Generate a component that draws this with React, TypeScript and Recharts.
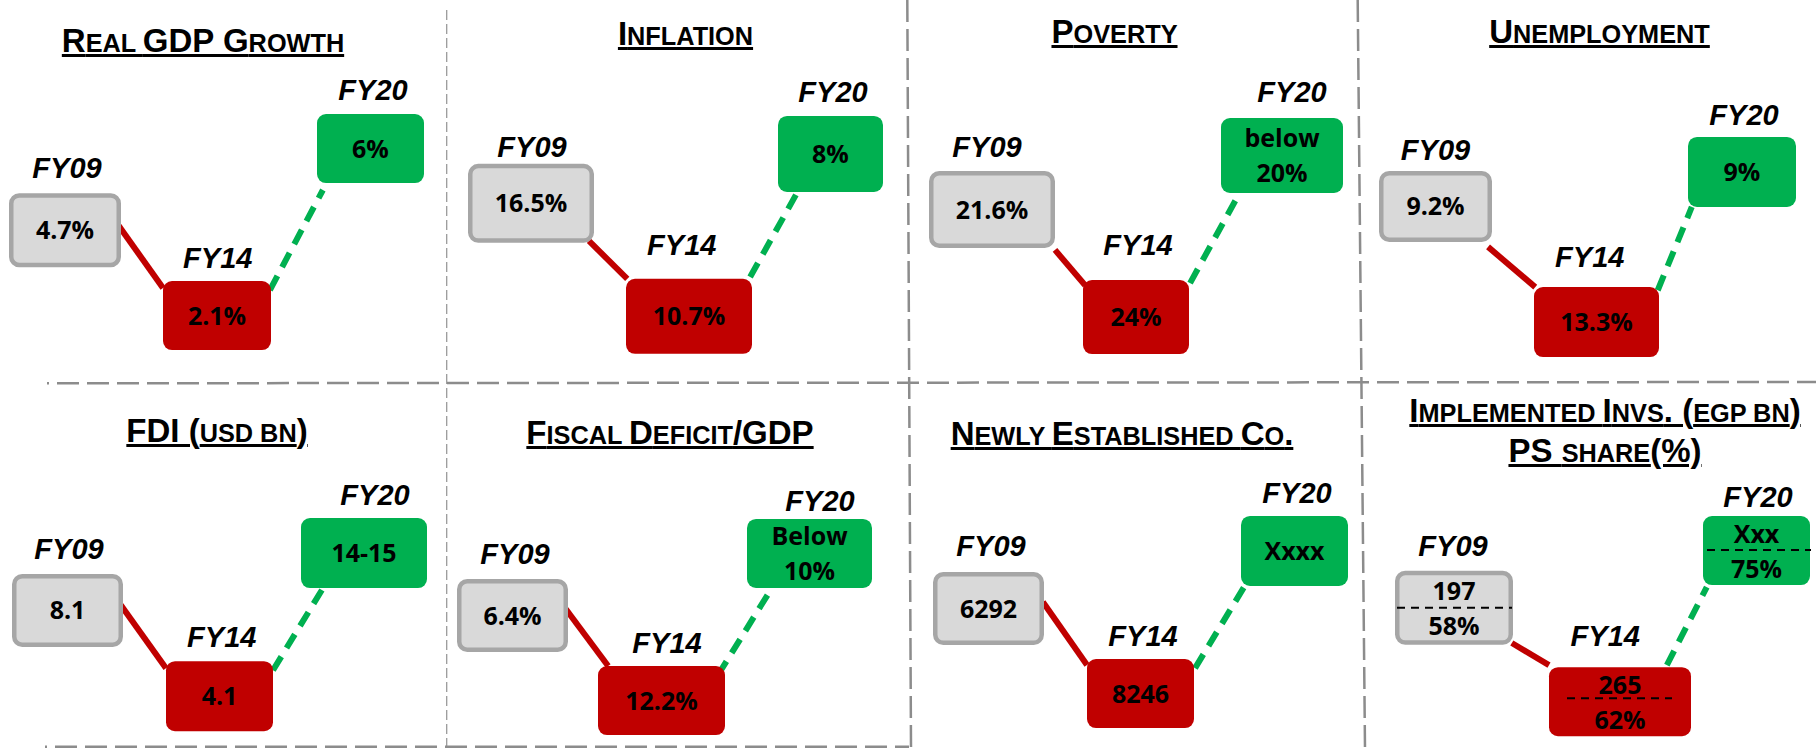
import React from 'react';
import { LineChart, Line, XAxis, YAxis } from 'recharts';

// ---------- DATA ----------
const years = ['FY09', 'FY14', 'FY20'];

const gdpGrowth = ['4.7%', '2.1%', '6%'];
const inflation = ['16.5%', '10.7%', '8%'];
const poverty = ['21.6%', '24%', 'below\n20%'];
const unemployment = ['9.2%', '13.3%', '9%'];
const fdiUsdBn = ['8.1', '4.1', '14-15'];
const fiscalDeficitGdp = ['6.4%', '12.2%', 'Below\n10%'];
const newCompanies = ['6292', '8246', 'Xxxx'];
const implementedInvEgpBn = ['197', '265', 'Xxx'];
const psSharePct = ['58%', '62%', '75%'];

// schematic trend position of each year's box (0 = bottom, 100 = top of the panel)
const gdpTrend = [39.9, 17.6, 61.2];
const inflationTrend = [46.9, 17.4, 59.8];
const povertyTrend = [45.3, 17.2, 59.4];
const unemploymentTrend = [46.1, 15.9, 55.1];
const fdiTrend = [37.7, 14.2, 53.4];
const deficitTrend = [36.3, 13.0, 53.3];
const newCoTrend = [38.2, 14.9, 54.0];
const investTrend = [38.4, 12.7, 54.1];

const titles = [
  ['Real GDP Growth'],
  ['Inflation'],
  ['Poverty'],
  ['Unemployment'],
  ['FDI (usd bn)'],
  ['Fiscal Deficit/GDP'],
  ['Newly Established Co.'],
  ['Implemented Invs. (egp bn)', 'PS share(%)'],
];

// ---------- LAYOUT ----------
const COLS = [[0, 447], [447, 908], [908, 1361], [1361, 1816]];
const ROWS = [[0, 383], [383, 748]];

type Pt = [number, number];
type Cfg = {
  col: number; row: number;
  titleX: number; titleBase: number[];
  lines: string[][]; trend: number[]; sep?: boolean;
  pad: [number, number];
  boxDx: number[]; boxW: number[]; boxH: number[];
  labelDx: number[]; labelGap: number[];
  aFrom: Pt; aTo: Pt; bFrom: Pt; bTo: Pt;
  sepGeom?: [number, number, number][];
};

const split = (arr: string[]) => arr.map((s) => s.split('\n'));

const panels: Cfg[] = [
  { col: 0, row: 0, titleX: 203, titleBase: [52], lines: split(gdpGrowth), trend: gdpTrend,
    pad: [65, 76.5], boxDx: [0, -0.75, 0], boxW: [112, 108, 107], boxH: [74, 69, 69],
    labelDx: [2, 0, 2.5], labelGap: [15, 13, 14],
    aFrom: [0.95, -0.14], aTo: [-1, -0.8], bFrom: [0.98, -0.74], bTo: [-0.89, 1.2] },
  { col: 1, row: 0, titleX: 685.5, titleBase: [45], lines: split(inflation), trend: inflationTrend,
    pad: [84, 77.5], boxDx: [0, 8.25, 0], boxW: [126, 126, 105], boxH: [79, 75, 76],
    labelDx: [1, 1, 2.5], labelGap: [7, 24, 14],
    aFrom: [0.92, 0.95], aTo: [-0.98, -1.0], bFrom: [0.97, -1.05], bTo: [-0.64, 1.03] },
  { col: 2, row: 0, titleX: 1114.5, titleBase: [43], lines: split(poverty), trend: povertyTrend,
    pad: [84, 79], boxDx: [0, -1, 0], boxW: [126, 106, 122], boxH: [77, 74, 75],
    labelDx: [-5, 1, 10], labelGap: [14, 25, 16],
    aFrom: [1.0, 1.05], aTo: [-0.96, -0.86], bFrom: [1.02, -0.92], bTo: [-0.74, 1.13] },
  { col: 3, row: 0, titleX: 1599.5, titleBase: [43], lines: split(unemployment), trend: unemploymentTrend,
    pad: [74.5, 74], boxDx: [0, 7.75, 0], boxW: [113, 125, 108], boxH: [71, 70, 70],
    labelDx: [0, 1, 2], labelGap: [11, 20, 12],
    aFrom: [0.93, 1.14], aTo: [-0.98, -1.0], bFrom: [0.98, -0.91], bTo: [-0.93, 1.0] },
  { col: 0, row: 1, titleX: 217, titleBase: [442], lines: split(fdiUsdBn), trend: fdiTrend,
    pad: [67.5, 83], boxDx: [0, 3.75, 0], boxW: [111, 107, 126], boxH: [73, 70, 70],
    labelDx: [1.5, 6, 11], labelGap: [15, 14, 13],
    aFrom: [0.96, -0.15], aTo: [-1, -0.8], bFrom: [1.0, -0.74], bTo: [-0.65, 1.0] },
  { col: 1, row: 1, titleX: 670, titleBase: [444], lines: split(fiscalDeficitGdp), trend: deficitTrend,
    pad: [65.5, 98.5], boxDx: [0, 0.5, 0], boxW: [111, 127, 125], boxH: [73, 69, 69],
    labelDx: [2.5, 6, 10.5], labelGap: [15, 13, 8],
    aFrom: [0.96, -0.18], aTo: [-0.84, -1.0], bFrom: [0.89, -0.74], bTo: [-0.66, 1.17] },
  { col: 2, row: 1, titleX: 1122, titleBase: [445], lines: split(newCompanies), trend: newCoTrend,
    pad: [80.5, 66.5], boxDx: [0, -1, 0], boxW: [111, 107, 107], boxH: [73, 69, 70],
    labelDx: [2.5, 1.5, 2.5], labelGap: [16, 13, 13],
    aFrom: [0.98, -0.18], aTo: [-1, -0.83], bFrom: [1.02, -0.74], bTo: [-0.93, 1.0] },
  { col: 3, row: 1, titleX: 1605, titleBase: [422, 462],
    lines: implementedInvEgpBn.map((v, i) => [v, psSharePct[i]]), trend: investTrend, sep: true,
    pad: [93, 59.5], boxDx: [0, 14.75, 0], boxW: [118, 142, 107], boxH: [74, 69, 69],
    labelDx: [-1, 0, 1.5], labelGap: [15, 21, 9],
    aFrom: [0.98, 0.95], aTo: [-1, -1.06], bFrom: [0.66, -1.06], bTo: [-0.93, 1.06],
    sepGeom: [[-57, 58, 0], [-53, 52, -3.5], [-49.5, 54.5, -0.5]] },
];

const RED = '#c00000';
const GREEN = '#00b050';
const GRAY_FILL = '#d9d9d9';
const GRAY_STROKE = '#a6a6a6';
const LABEL_FONT = "'Liberation Sans', Arial, sans-serif";
const VALUE_FONT = "'Open Sans', 'Noto Sans', sans-serif";
const TITLE_SIZE = 33;
const TITLE_SMALL = 25.3;
const CONNECTOR_WIDTH = 6;

// custom d3 curve: connector drawn between box edges, from box i to box i+1
function makeConnector(cfg: Cfg, from: number, a: Pt, b: Pt) {
  return (context: any) => {
    let pts: Pt[] = [];
    return {
      areaStart() {},
      areaEnd() {},
      lineStart() { pts = []; },
      point(x: number, y: number) { pts.push([x, y]); },
      lineEnd() {
        if (pts.length < 2) return;
        const i0 = from, i1 = from + 1;
        const sx = pts[0][0] + cfg.boxDx[i0] + (a[0] * cfg.boxW[i0]) / 2;
        const sy = pts[0][1] + (a[1] * cfg.boxH[i0]) / 2;
        const ex = pts[1][0] + cfg.boxDx[i1] + (b[0] * cfg.boxW[i1]) / 2;
        const ey = pts[1][1] + (b[1] * cfg.boxH[i1]) / 2;
        context.moveTo(sx, sy);
        context.lineTo(ex, ey);
      },
    };
  };
}

function makeBox(cfg: Cfg) {
  return (props: any) => {
    const { cx, cy, index } = props;
    if (cx == null || cy == null) return <g key={`b-${index}`} />;
    const w = cfg.boxW[index];
    const h = cfg.boxH[index];
    const bx = cx + cfg.boxDx[index];
    const x0 = bx - w / 2;
    const y0 = cy - h / 2;
    const lines = cfg.lines[index];
    const valueProps = {
      textAnchor: 'middle' as const,
      fontFamily: VALUE_FONT,
      fontWeight: 700,
      fontSize: 25,
      fill: '#000',
    };
    const sg = cfg.sepGeom ? cfg.sepGeom[index] : null;
    return (
      <g key={`b-${index}`}>
        {index === 0 ? (
          <rect x={x0 + 2.25} y={y0 + 2.25} width={w - 4.5} height={h - 4.5} rx={8} ry={8}
            fill={GRAY_FILL} stroke={GRAY_STROKE} strokeWidth={4.5} />
        ) : (
          <rect x={x0} y={y0} width={w} height={h} rx={9} ry={9}
            fill={index === 1 ? RED : GREEN} />
        )}
        <text x={cx + cfg.labelDx[index]} y={y0 - cfg.labelGap[index]} textAnchor="middle"
          fontFamily={LABEL_FONT} fontWeight={700} fontStyle="italic" fontSize={29} fill="#000">
          {years[index]}
        </text>
        {lines.length === 1 ? (
          <text x={bx} y={cy + 9} {...valueProps}>{lines[0]}</text>
        ) : (
          <>
            <text x={bx} y={cy - 8} {...valueProps}>{lines[0]}</text>
            <text x={bx} y={cy + 27} {...valueProps}>{lines[1]}</text>
          </>
        )}
        {cfg.sep && sg ? (
          <line x1={bx + sg[0]} x2={bx + sg[1]} y1={cy + sg[2]} y2={cy + sg[2]}
            stroke="#000" strokeWidth={2} strokeDasharray="8 6" />
        ) : null}
      </g>
    );
  };
}

function Title({ text, x, base }: { text: string; x: number; base: number }) {
  const runs: { t: string; small: boolean }[] = [];
  for (const ch of text) {
    const lower = /[a-z]/.test(ch);
    const small = ch === ' ' ? (runs.length ? runs[runs.length - 1].small : false) : lower;
    if (runs.length && runs[runs.length - 1].small === small) runs[runs.length - 1].t += ch;
    else runs.push({ t: ch, small });
  }
  return (
    <div
      style={{
        position: 'absolute', left: x - 400, width: 800, top: base - 0.8465 * TITLE_SIZE,
        fontFamily: LABEL_FONT, fontWeight: 700, fontSize: TITLE_SIZE, lineHeight: `${TITLE_SIZE}px`,
        textAlign: 'center', whiteSpace: 'nowrap', color: '#000',
        textDecoration: 'underline', textDecorationThickness: '3px', textUnderlineOffset: '2px',
      }}
    >
      {runs.map((r, i) =>
        r.small ? (
          <span key={i} style={{ fontSize: TITLE_SMALL, textTransform: 'uppercase' }}>{r.t}</span>
        ) : (
          <span key={i}>{r.t}</span>
        ),
      )}
    </div>
  );
}

function Panel({ cfg }: { cfg: Cfg }) {
  const [cl, cr] = COLS[cfg.col];
  const [rt, rb] = ROWS[cfg.row];
  const data = years.map((year, i) => ({
    year,
    level: cfg.trend[i],
    segA: i < 2 ? cfg.trend[i] : null,
    segB: i > 0 ? cfg.trend[i] : null,
  }));
  return (
    <div style={{ position: 'absolute', left: cl, top: rt, width: cr - cl, height: rb - rt }}>
      <LineChart width={cr - cl} height={rb - rt} data={data}
        margin={{ top: 0, right: 0, bottom: 0, left: 0 }}>
        <XAxis dataKey="year" hide scale="point" padding={{ left: cfg.pad[0], right: cfg.pad[1] }} />
        <YAxis hide domain={[0, 100]} />
        <Line dataKey="segA" type={makeConnector(cfg, 0, cfg.aFrom, cfg.aTo) as any}
          stroke={RED} strokeWidth={CONNECTOR_WIDTH}
          dot={false} activeDot={false} isAnimationActive={false} />
        <Line dataKey="segB" type={makeConnector(cfg, 1, cfg.bFrom, cfg.bTo) as any}
          stroke={GREEN} strokeWidth={CONNECTOR_WIDTH}
          strokeDasharray="16 10" dot={false} activeDot={false}
          isAnimationActive={false} />
        <Line dataKey="level" stroke="none" dot={makeBox(cfg)} activeDot={false}
          isAnimationActive={false} />
      </LineChart>
    </div>
  );
}

export default function App() {
  return (
    <div style={{ position: 'absolute', left: 0, top: 0, width: 1816, height: 748,
      background: '#fff', overflow: 'hidden' }}>
      {panels.map((cfg, i) => (
        <Panel key={i} cfg={cfg} />
      ))}
      {panels.map((cfg, i) =>
        titles[i].map((t, j) => <Title key={`${i}-${j}`} text={t} x={cfg.titleX} base={cfg.titleBase[j]} />),
      )}
      <svg width={1816} height={748} style={{ position: 'absolute', left: 0, top: 0, pointerEvents: 'none' }}>
        <line x1={446.7} y1={10} x2={446.7} y2={748} stroke="#9a9a9a" strokeWidth={1.3} strokeDasharray="10 4" />
        <line x1={907.3} y1={0} x2={911} y2={748} stroke="#8c8c8c" strokeWidth={2.5} strokeDasharray="22 7" />
        <line x1={1357.7} y1={0} x2={1365} y2={748} stroke="#8c8c8c" strokeWidth={2.5} strokeDasharray="22 7" />
        <line x1={47} y1={383.3} x2={1816} y2={382} stroke="#8c8c8c" strokeWidth={2.5} strokeDasharray="22 8" strokeDashoffset={20} />
        <line x1={45} y1={746.7} x2={909} y2={746.7} stroke="#8c8c8c" strokeWidth={2.5} strokeDasharray="22 8" strokeDashoffset={20} />
      </svg>
    </div>
  );
}
